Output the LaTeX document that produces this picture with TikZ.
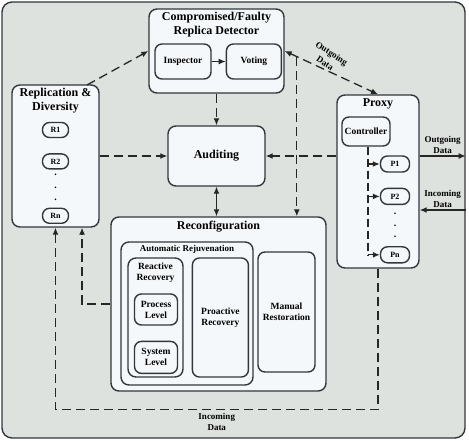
\documentclass[tikz,border=0pt]{standalone}
\usepackage{fontspec}
\setmainfont{Liberation Serif}
\usetikzlibrary{positioning,calc,arrows.meta}
\definecolor{framefill}{RGB}{221,226,223}
\definecolor{boxfill}{RGB}{245,248,250}
\definecolor{edge}{RGB}{50,55,60}
\tikzset{
  blockbox/.style={draw=edge, line width=1.4pt, fill=boxfill, rounded corners=8pt, inner sep=0pt},
  unitbox/.style={blockbox, rounded corners=7pt, font=\fontsize{9.5}{11}\selectfont\bfseries, align=center},
  replica/.style={blockbox, rounded corners=7pt, minimum width=26pt, minimum height=15pt, font=\fontsize{8}{9}\selectfont\bfseries},
  heading/.style={font=\fontsize{12}{13.5}\selectfont\bfseries, align=center, inner sep=1pt},
  tag/.style={font=\fontsize{9}{10.5}\selectfont\bfseries, align=center, inner sep=1pt},
  flow/.style={line width=1.3pt, draw=black!85, dash pattern=on 9pt off 5pt},
  solidflow/.style={line width=1.3pt, draw=black!85},
}

\begin{document}
\begin{tikzpicture}[x=1pt, y=-1pt, >={Latex[length=7pt,width=6pt]}]
            \useasboundingbox (0,0) rectangle (469,441);
            \node[draw=edge, line width=1.4pt, fill=framefill, rounded corners=10pt, minimum width=463pt, minimum height=436pt](frame) at (233.5,220){};

            \node[blockbox, minimum width=135pt, minimum height=84pt](det) at (216.5,51){};
            \node[heading, below=3pt of det.north](dettitle){Compromised/Faulty\\Replica Detector};
            \node[unitbox, minimum width=56pt, minimum height=35pt](insp) at (183,61.5){Inspector};
            \node[unitbox, minimum width=55pt, minimum height=35pt, right=14pt of insp](vote){Voting};
            \draw[solidflow,->](insp.east)--(vote.west);

            \node[blockbox, minimum width=87pt, minimum height=142pt](rep) at (55.5,156){};
            \node[heading, below=3pt of rep.north](reptitle){Replication \&\\Diversity};
            \node[replica](r1) at (55.5,130){R1};
            \node[replica, below=15pt of r1](r2){R2};
            \node[replica, below=38pt of r2](rn){Rn};
            \foreach \t/\n in {0.25/1,0.48/2,0.71/3}
                \node[inner sep=0pt, font=\bfseries](rdot\n) at ($(r2)!\t!(rn)$){.};

            \node[blockbox, heading, minimum width=97pt, minimum height=60pt](aud) at (216.5,156){Auditing};

            \node[blockbox, minimum width=82pt, minimum height=173pt](proxy) at (378,181.5){};
            \node[heading, below=3pt of proxy.north](proxytitle){Proxy};
            \node[unitbox, minimum width=48pt, minimum height=29pt](ctrl) at (366,131.5){Controller};
            \node[replica, minimum width=29pt, minimum height=16pt](p1) at (395,164){P1};
            \node[replica, minimum width=29pt, minimum height=16pt, below=15pt of p1](p2){P2};
            \node[replica, minimum width=29pt, minimum height=16pt, below=41pt of p2](pn){Pn};
            \foreach \t/\n in {0.3/1,0.5/2,0.7/3}
                \node[inner sep=0pt, font=\bfseries](pdot\n) at ($(p2)!\t!(pn)$){.};
            \coordinate (ctrlout) at ($(ctrl.south)+(2,0)$);
            \draw[flow, dash pattern=on 8pt off 4pt](ctrlout)--(ctrlout |- pn);
            \foreach \p in {p1,p2,pn}
                \draw[solidflow,->](ctrlout |- \p)--(\p.west);

            \node[blockbox, minimum width=215pt, minimum height=174pt](reconf) at (218.5,304){};
            \node[heading, below=4pt of reconf.north](reconftitle){Reconfiguration};
            \node[blockbox, minimum width=132pt, minimum height=143pt](auto) at (187,313.5){};
            \node[tag, below=3pt of auto.north](autotitle){Automatic Rejuvenation};
            \node[blockbox, minimum width=55pt, minimum height=119pt](react) at (155.5,317.5){};
            \node[tag, font=\fontsize{9.5}{11}\selectfont\bfseries, below=4pt of react.north](reacttitle){Reactive\\Recovery};
            \node[unitbox, minimum width=43pt, minimum height=31pt](proc) at (156,309.5){Process\\Level};
            \node[unitbox, minimum width=43pt, minimum height=32pt, below=15pt of proc](sys){System\\Level};
            \node[unitbox, minimum width=56pt, minimum height=119pt, right=8pt of react](proact){Proactive\\Recovery};
            \node[unitbox, minimum width=57pt, minimum height=120pt](manual) at (286.5,312){Manual\\Restoration};

            \coordinate (repout) at (87,85);
            \draw[flow,->](repout)--(det.west);
            \draw[flow,->](det.south)--(aud.north);
            \draw[flow,->](rep.east)--(aud.west);
            \draw[flow,->](proxy.west |- aud.east)--(aud.east);
            \draw[solidflow,<->](aud.south)--(aud.south |- reconf.north);
            \draw[flow,<->](det.east)--(proxy.north)
                node[tag, font=\fontsize{9}{12}\selectfont\bfseries, pos=0.4, anchor=south, rotate=-33, inner sep=2pt]{Outgoing\\Data}
                coordinate[pos=0.13](branch);
            \draw[flow,->](branch)--(branch |- reconf.north);

            \draw[solidflow,->](proxy.east |- aud.east)--(frame.east |- aud.east)
                node[tag, midway, above=1pt]{Outgoing\\Data};
            \coordinate (proxyin) at ($(proxy.east)+(0,28.5)$);
            \draw[solidflow,<-](proxyin)--(frame.east |- proxyin)
                node[tag, midway, above=1pt]{Incoming\\Data};

            \draw[flow,->](proxy.south)--++(0,141)-|(rep.south)
                node[tag, pos=0.25, below=2pt]{Incoming\\Data};
            \draw[flow,->](reconf.west)-|($(rep.south)!0.6!(rep.south east)$);
        \end{tikzpicture}
\end{document}
